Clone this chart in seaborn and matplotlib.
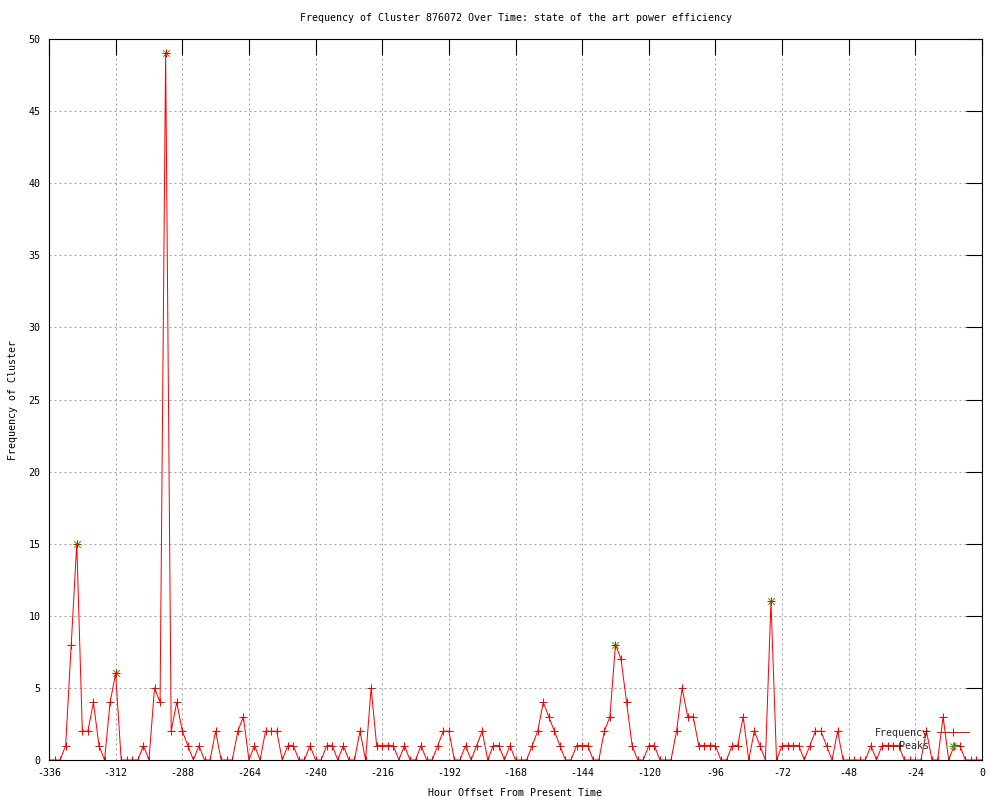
import matplotlib
matplotlib.use("Agg")
import matplotlib.pyplot as plt
import seaborn as sns
from matplotlib.lines import Line2D
from matplotlib.legend_handler import HandlerTuple

sns.set_style("white")
plt.rcParams["font.family"] = ["DejaVu Sans Mono", "DejaVu Sans"]
plt.rcParams["axes.unicode_minus"] = False

# hour offsets, one reading every 2 hours
hours = list(range(-336, 1, 2))

frequency = [
    0, 0, 0, 1, 8, 15, 2, 2, 4, 1,
    0, 4, 6, 0, 0, 0, 0, 1, 0, 5,
    4, 49, 2, 4, 2, 1, 0, 1, 0, 0,
    2, 0, 0, 0, 2, 3, 0, 1, 0, 2,
    2, 2, 0, 1, 1, 0, 0, 1, 0, 0,
    1, 1, 0, 1, 0, 0, 2, 0, 5, 1,
    1, 1, 1, 0, 1, 0, 0, 1, 0, 0,
    1, 2, 2, 0, 0, 1, 0, 1, 2, 0,
    1, 1, 0, 1, 0, 0, 0, 1, 2, 4,
    3, 2, 1, 0, 0, 1, 1, 1, 0, 0,
    2, 3, 8, 7, 4, 1, 0, 0, 1, 1,
    0, 0, 0, 2, 5, 3, 3, 1, 1, 1,
    1, 0, 0, 1, 1, 3, 0, 2, 1, 0,
    11, 0, 1, 1, 1, 1, 0, 1, 2, 2,
    1, 0, 2, 0, 0, 0, 0, 0, 1, 0,
    1, 1, 1, 1, 0, 0, 0, 0, 2, 0,
    0, 3, 0, 1, 1, 0, 0, 0, 0,
]

peak_hours = [-326, -312, -294, -132, -76]
peak_values = [15, 6, 49, 8, 11]

x_ticks = list(range(-336, 1, 24))
y_ticks = list(range(0, 51, 5))

title = "Frequency of Cluster 876072 Over Time: state of the art power efficiency"

fig = plt.figure(figsize=(10, 8), dpi=100)
ax = fig.add_axes([0.049, 0.05, 0.933, 0.90125])

px = 0.72  # one pixel in points

# peaks first, the red frequency markers sit on top
for m in ["x", "+"]:
    sns.scatterplot(
        x=peak_hours, y=peak_values, ax=ax,
        marker=m, s=22, color="#00c000",
        linewidth=px, edgecolor="#00c000", zorder=2, legend=False,
    )

sns.lineplot(
    x=hours, y=frequency, ax=ax,
    color="red", linewidth=px,
    marker="+", markersize=5.5, markeredgewidth=px,
    markeredgecolor="red", sort=False, estimator=None, zorder=3,
)

ax.set_xlim(-336, 0)
ax.set_ylim(0, 50)
ax.set_xticks(x_ticks)
ax.set_yticks(y_ticks)

ax.grid(True, color="#a0a0a0", linestyle=(0, (2, 3)), linewidth=px)
ax.set_axisbelow(True)

for s in ax.spines.values():
    s.set_color("black")
    s.set_linewidth(0.8)
    s.set_zorder(5)

ax.tick_params(
    axis="both", direction="in", length=11.5, width=0.8, color="black",
    top=True, right=True, labelsize=7.2, labelcolor="black",
)
ax.tick_params(axis="x", pad=6)
ax.tick_params(axis="y", pad=6)

ax.set_title(title, fontsize=7.2, pad=13, color="black")
ax.set_xlabel("Hour Offset From Present Time", fontsize=7.2, labelpad=7, color="black")
ax.set_ylabel("Frequency of Cluster", fontsize=7.2, labelpad=8, color="black")

freq_handle = Line2D([], [], color="red", linewidth=px, marker="+",
                     markersize=5.5, markeredgewidth=px)
peak_handle = (
    Line2D([], [], color="#00c000", linestyle="none", marker="x",
           markersize=4.5, markeredgewidth=px),
    Line2D([], [], color="#00c000", linestyle="none", marker="+",
           markersize=5.5, markeredgewidth=px),
)
ax.legend(
    [freq_handle, peak_handle], ["Frequency", "Peaks"],
    handler_map={tuple: HandlerTuple(ndivide=1)},
    loc="lower right", bbox_to_anchor=(0.991, 0.005),
    markerfirst=False, frameon=False, fontsize=7.2,
    handlelength=3.2, handletextpad=0.8, labelspacing=0.35, borderpad=0,
)

fig.savefig("out.png", dpi=100)
